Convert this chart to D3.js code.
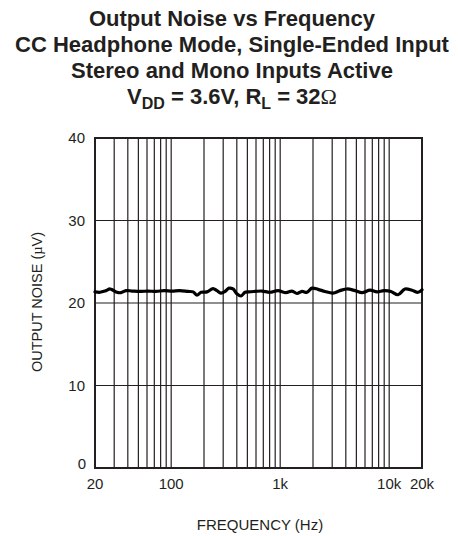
<!DOCTYPE html>
<html><head><meta charset="utf-8">
<script src="https://cdn.jsdelivr.net/npm/d3@7"></script>
<style>body{margin:0;background:#fff}svg{display:block}</style>
</head><body><svg id="c" width="458" height="536"></svg>
<script>
const freqs = [20,22.2,24.7,27.5,29.3,31.8,34.6,38.5,43.7,51.7,61.3,72.5,85.9,101.7,120,143,159,172,188,213,242,263,286,312,339,369,402,437,476,517,587,681,806,955,1131,1283,1426,1585,1762,1958,2224,2578,3052,3538,4102,4857,5630,6667,7730,8961,10390,12046,13964,16190,18378,20000];
const noise = [21.35,21.3,21.45,21.7,21.55,21.3,21.25,21.5,21.45,21.4,21.45,21.4,21.5,21.45,21.5,21.4,21.35,20.95,21.3,21.35,21.75,21.5,21.2,21.4,21.8,21.7,21.1,20.85,21.3,21.35,21.4,21.45,21.3,21.5,21.25,21.45,21.15,21.4,21.3,21.8,21.65,21.4,21.2,21.5,21.7,21.5,21.25,21.55,21.35,21.5,21.4,21.0,21.7,21.55,21.3,21.6];
const xTicks = [20,100,1000,10000,20000];
const xTickLabels = ["20","100","1k","10k","20k"];
const yTicks = [0,10,20,30,40];
const xGrid = [30,40,50,60,70,80,90,100,200,300,400,500,600,700,800,900,1000,2000,3000,4000,5000,6000,7000,8000,9000,10000];
const titleLines = ["Output Noise vs Frequency","CC Headphone Mode, Single-Ended Input","Stereo and Mono Inputs Active"];

const svg = d3.select("#c");
const L=95,R=422,T=138,B=468;
const x = d3.scaleLog().domain([20,20000]).range([L,R]);
const y = d3.scaleLinear().domain([0,40]).range([B,T]);
const font = "'Liberation Sans', Arial, sans-serif";

// title
const tg = svg.append("g").attr("font-family",font).attr("font-weight","bold").attr("font-size",22).attr("text-anchor","middle").attr("fill","#231f20");
titleLines.forEach((t,i)=>tg.append("text").attr("x",232).attr("y",26+i*26).text(t));
const t4 = tg.append("text").attr("x",232).attr("y",104);
t4.append("tspan").text("V");
t4.append("tspan").attr("font-size",16).attr("dy",5).text("DD");
t4.append("tspan").attr("dy",-5).text(" = 3.6V, R");
t4.append("tspan").attr("font-size",16).attr("dy",5).text("L");
t4.append("tspan").attr("dy",-5).text(" = 32");
t4.append("tspan").attr("font-family","'Liberation Serif', 'Times New Roman', serif").attr("font-weight","normal").text("Ω");

// grid
const g = svg.append("g");
g.selectAll("line.vg").data(xGrid).join("line").attr("x1",d=>x(d)).attr("x2",d=>x(d)).attr("y1",T).attr("y2",B).attr("stroke","#231f20").attr("stroke-width",1.2);
g.selectAll("line.hg").data([10,20,30]).join("line").attr("x1",L).attr("x2",R).attr("y1",d=>y(d)).attr("y2",d=>y(d)).attr("stroke","#231f20").attr("stroke-width",1.2);
g.append("rect").attr("x",L).attr("y",T).attr("width",R-L).attr("height",B-T).attr("fill","none").attr("stroke","#231f20").attr("stroke-width",2);

// axes labels
const ax = svg.append("g").attr("font-family",font).attr("font-size",15).attr("fill","#231f20");
ax.selectAll("text.xt").data(xTicks).join("text").attr("x",d=>x(d)).attr("y",489).attr("text-anchor","middle").text((d,i)=>xTickLabels[i]);
ax.selectAll("text.yt").data(yTicks).join("text").attr("x",d=>d===0?86:85).attr("y",d=>y(d)+5-(d===0?4:0)).attr("text-anchor","end").text(d=>d);
ax.append("text").attr("x",260).attr("y",530).attr("text-anchor","middle").attr("font-size",15).text("FREQUENCY (Hz)");
const yl = ax.append("text").attr("transform","translate(42,302) rotate(-90)").attr("text-anchor","middle").attr("font-size",14.5);
yl.append("tspan").text("OUTPUT NOISE (");
yl.append("tspan").attr("font-family","'Liberation Serif', serif").text("µ");
yl.append("tspan").text("V)");

// data line
svg.append("path").datum(freqs.map((f,i)=>[f,noise[i]]))
  .attr("d",d3.line().x(d=>x(d[0])).y(d=>y(d[1])).curve(d3.curveCatmullRom))
  .attr("fill","none").attr("stroke","#000").attr("stroke-width",3.2).attr("stroke-linejoin","round").attr("stroke-linecap","round");
</script></body></html>
